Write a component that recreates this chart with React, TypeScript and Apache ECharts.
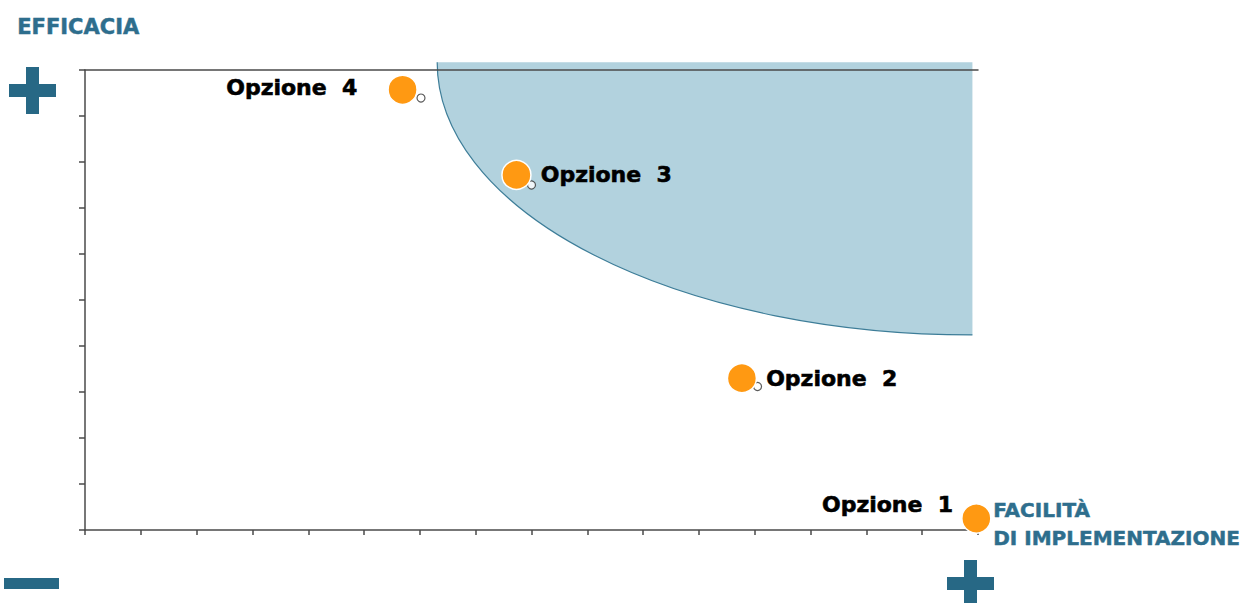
import React, { useEffect, useRef } from "react";
import * as echarts from "echarts";

// Options (categories)
const optionNames = ["Opzione  1", "Opzione  2", "Opzione  3", "Opzione  4"];
// Orange markers: facilità (x) and efficacia (y)
const facilita = [15.97, 11.77, 7.73, 5.69];
const efficacia = [0.25, 3.3, 7.72, 9.57];
// Small hollow anchor points (option 1 hidden)
const anchorFacilita = [null, 12.05, 8.0, 6.02];
const anchorEfficacia = [null, 3.12, 7.5, 9.39];
// Axis ranges
const xRange = [0, 16];
const yRange = [0, 10];
// Target zone: quarter ellipse (centre and radii in data units)
const zoneCenter = [15.9, 10.17];
const zoneRadius = [9.59, 5.93];

const TITLE_COLOR = "#2E6E8D";
const SIGN_COLOR = "#276885";
const FONT = "DejaVu Sans";

export default function App() {
  const ref = useRef<HTMLDivElement>(null);
  useEffect(() => {
    document.body.style.margin = "0";
    const chart = echarts.init(ref.current!, null, { renderer: "svg" });

    const labelCfg = [
      { position: "left", distance: 8, offset: [0, -14] },
      { position: "right", distance: 9, offset: [0, 0] },
      { position: "right", distance: 9, offset: [0, 0] },
      { position: "left", distance: 30, offset: [0, -2] },
    ];

    const mainData = facilita.map((x, i) => ({
      name: optionNames[i],
      value: [x, efficacia[i]],
      label: {
        show: true,
        formatter: "{b}",
        position: labelCfg[i].position,
        distance: labelCfg[i].distance,
        offset: labelCfg[i].offset,
      },
    }));

    const anchorData = anchorFacilita
      .map((x, i) => (x == null ? [] : [x, anchorEfficacia[i]]))
      .filter((d) => d.length);

    const axisLineStyle = { color: "#4a4a4a", width: 1.5 };

    const sign = (x: number, y: number, w: number, h: number) => ({
      type: "rect",
      shape: { x, y, width: w, height: h },
      style: { fill: SIGN_COLOR },
      silent: true,
    });

    chart.setOption({
      animation: false,
      grid: { left: 85, right: 263, top: 70, bottom: 73, containLabel: false },
      xAxis: [
        {
          type: "value",
          min: xRange[0],
          max: xRange[1],
          interval: 1,
          axisLine: { show: true, lineStyle: axisLineStyle },
          axisTick: { show: true, length: 5, lineStyle: axisLineStyle },
          axisLabel: { show: false },
          splitLine: { show: false },
        },
        {
          type: "value",
          position: "top",
          min: xRange[0],
          max: xRange[1],
          z: 5,
          axisLine: { show: true, lineStyle: axisLineStyle },
          axisTick: { show: false },
          axisLabel: { show: false },
          splitLine: { show: false },
        },
      ],
      yAxis: {
        type: "value",
        min: yRange[0],
        max: yRange[1],
        interval: 1,
        axisLine: { show: true, lineStyle: axisLineStyle },
        axisTick: { show: true, length: 6, lineStyle: axisLineStyle },
        axisLabel: { show: false },
        splitLine: { show: false },
      },
      graphic: [
        {
          type: "text",
          left: 17,
          top: 16,
          style: {
            text: "EFFICACIA",
            fill: TITLE_COLOR,
            font: `bold 21px "${FONT}"`,
            stroke: TITLE_COLOR,
            lineWidth: 0.5,
          },
        },
        {
          type: "text",
          left: 993,
          top: 496,
          style: {
            text: "FACILITÀ\nDI IMPLEMENTAZIONE",
            fill: TITLE_COLOR,
            font: `bold 20px "${FONT}"`,
            lineHeight: 28,
            stroke: TITLE_COLOR,
            lineWidth: 0.5,
          },
        },
        // plus top-left
        sign(9, 84, 47, 13),
        sign(26, 67, 13, 47),
        // minus bottom-left
        sign(4, 578, 55, 11),
        // plus bottom-right
        sign(947, 577, 47, 13),
        sign(964, 560, 13, 47),
      ],
      series: [
        {
          type: "custom",
          z: 1,
          silent: true,
          data: [[zoneCenter[0], zoneCenter[1]]],
          renderItem: (params: any, api: any) => {
            const c = api.coord([zoneCenter[0], zoneCenter[1]]);
            const l = api.coord([zoneCenter[0] - zoneRadius[0], zoneCenter[1]]);
            const b = api.coord([zoneCenter[0], zoneCenter[1] - zoneRadius[1]]);
            const rx = c[0] - l[0];
            const ry = b[1] - c[1];
            const arc = `M${l[0]} ${l[1]} A${rx} ${ry} 0 0 0 ${b[0]} ${b[1]}`;
            return {
              type: "group",
              children: [
                {
                  type: "path",
                  shape: { pathData: `${arc} L${c[0]} ${c[1]} Z` },
                  style: { fill: "#B2D2DE", stroke: "none" },
                },
                {
                  type: "path",
                  shape: { pathData: arc },
                  style: { fill: "none", stroke: "#3D7D98", lineWidth: 1.2 },
                },
              ],
            };
          },
        },
        {
          type: "scatter",
          z: 3,
          symbol: "circle",
          symbolSize: 8,
          itemStyle: { color: "#ffffff", borderColor: "#333333", borderWidth: 1.2 },
          data: anchorData,
          silent: true,
        },
        {
          type: "scatter",
          z: 4,
          symbol: "circle",
          symbolSize: 29,
          itemStyle: { color: "#FF9912", borderColor: "#ffffff", borderWidth: 1.5, opacity: 1 },
          label: {
            color: "#000000",
            fontFamily: FONT,
            fontWeight: "bold",
            fontSize: 22,
            textBorderColor: "#000000",
            textBorderWidth: 0.6,
          },
          data: mainData,
        },
      ],
    });
    return () => chart.dispose();
  }, []);
  return <div ref={ref} style={{ width: 1241, height: 603 }} />;
}
